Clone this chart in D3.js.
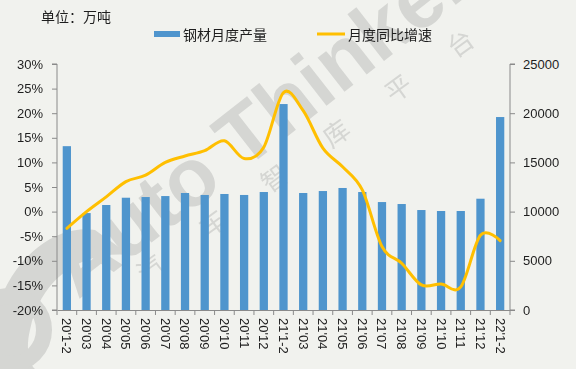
<!DOCTYPE html>
<html>
<head>
<meta charset="utf-8">
<script src="https://cdn.jsdelivr.net/npm/d3@7"></script>
<style>
body { margin: 0; background: #f1f2ee; }
#chart { width: 576px; height: 369px; }
text { font-family: "Liberation Sans", Arial, "Noto Sans CJK SC", sans-serif; }
</style>
</head>
<body>
<div id="chart"></div>
<script>
// categories (x axis)
let months = ["20'1-2","20'03","20'04","20'05","20'06","20'07","20'08","20'09","20'10","20'11","20'12",
    "21'1-2","21'03","21'04","21'05","21'06","21'07","21'08","21'09","21'10","21'11","21'12","22'1-2"];
// 钢材月度产量 (right axis)
let output = [16650, 9850, 10670, 11410, 11480, 11580, 11890, 11690, 11790, 11690, 11990,
    20930, 11890, 12090, 12400, 11990, 10970, 10770, 10160, 10060, 10060, 11310, 19610];
// 月度同比增速 (left axis)
let growth = [-3.4, 0.0, 3.0, 6.1, 7.4, 10.0, 11.3, 12.4, 14.4, 10.8, 13.1,
    24.2, 20.5, 12.9, 9.1, 4.4, -7.1, -10.5, -14.9, -14.7, -15.3, -4.8, -5.9];
let leftTicks = [-20, -15, -10, -5, 0, 5, 10, 15, 20, 25, 30];
let rightTicks = [0, 5000, 10000, 15000, 20000, 25000];

let width = 576, height = 369;
let pLeft = 57, pRight = 510, pTop = 64, pBottom = 310;

let svg = d3.select("#chart").append("svg")
    .attr("width", width)
    .attr("height", height);

svg.append("rect").attr("width", width).attr("height", height).attr("fill", "#f1f2ee");

// watermark
let wm = svg.append("g").attr("fill", "#d2d3d0").attr("opacity", 0.9);
wm.append("path")
    .attr("d", "M0,300 C20,250 60,225 95,230 L130,255 C80,250 40,280 30,330 C25,350 30,365 35,369 L0,369 Z");
wm.append("circle").attr("cx", 10).attr("cy", 330).attr("r", 34)
    .attr("fill", "none").attr("stroke", "#d2d3d0").attr("stroke-width", 16);
wm.append("text")
    .attr("transform", "translate(78,300) rotate(-38)")
    .attr("font-size", 82)
    .attr("font-weight", "bold")
    .attr("font-family", "Liberation Sans, Arial")
    .text("Auto Thinker");
let cn = ["汽", "车", "智", "库", "平", "台"];
wm.selectAll(".cn").data(cn).enter()
    .append("text")
    .attr("class", "cn")
    .attr("font-size", 26)
    .attr("font-family", "Noto Sans CJK SC")
    .attr("text-anchor", "middle")
    .attr("transform", (d, i) => `translate(${156 + i * 62},${276 - i * 45}) rotate(-36)`)
    .text(d => d);

let x = d3.scaleBand().domain(months).range([pLeft, pRight]).paddingInner(0.58).paddingOuter(0.29);
let yL = d3.scaleLinear().domain([-20, 30]).range([pBottom, pTop]);
let yR = d3.scaleLinear().domain([0, 25000]).range([pBottom, pTop]);

// bars
svg.selectAll(".bar").data(output).enter()
    .append("rect")
    .attr("class", "bar")
    .attr("x", (d, i) => x(months[i]))
    .attr("width", x.bandwidth())
    .attr("y", d => yR(d))
    .attr("height", d => yR(0) - yR(d))
    .attr("fill", "#4f95cd");

// axes
let axisColor = "#8a8a8a";
let gl = svg.append("g").attr("transform", `translate(${pLeft},0)`)
    .call(d3.axisLeft(yL).tickValues(leftTicks).tickSize(5).tickPadding(9).tickFormat(d => d + "%"));
let gr = svg.append("g").attr("transform", `translate(${pRight},0)`)
    .call(d3.axisRight(yR).tickValues(rightTicks).tickSize(5).tickPadding(8).tickFormat(d3.format("d")));
let xb = d3.scaleBand().domain(months).range([pLeft, pRight]);
let gx = svg.append("g").attr("transform", `translate(0,${pBottom})`)
    .call(d3.axisBottom(xb).tickSize(0).tickPadding(0));
gx.selectAll(".tick text")
    .attr("transform", "rotate(90)")
    .attr("text-anchor", "start")
    .attr("x", 8)
    .attr("y", 0)
    .attr("dy", "0.35em");
gx.selectAll(".bnd").data(d3.range(months.length + 1)).enter()
    .append("line")
    .attr("x1", i => pLeft + i * xb.step()).attr("x2", i => pLeft + i * xb.step())
    .attr("y1", 0).attr("y2", 5)
    .attr("stroke", axisColor);

[gl, gr, gx].forEach(g => {
    g.selectAll("path.domain").attr("stroke", axisColor);
    g.selectAll(".tick line").attr("stroke", axisColor);
    g.selectAll(".tick text").attr("fill", "#1e1e1e").attr("font-size", 13)
        .attr("font-family", "Liberation Sans, Arial");
});
gl.select("path.domain").attr("d", `M-5,${pTop}H0V${pBottom}H-5`);
gr.select("path.domain").attr("d", `M5,${pTop}H0V${pBottom}H5`);

// line
let line = d3.line()
    .x((d, i) => x(months[i]) + x.bandwidth() / 2)
    .y(d => yL(d))
    .curve(d3.curveCatmullRom.alpha(0));
svg.append("path")
    .datum(growth)
    .attr("d", line)
    .attr("fill", "none")
    .attr("stroke", "#ffbf00")
    .attr("stroke-width", 3)
    .attr("stroke-linecap", "round");

// title + legend
svg.append("text").attr("x", 41).attr("y", 22).attr("font-size", 14).attr("fill", "#1e1e1e")
    .attr("font-family", "Noto Sans CJK SC").text("单位：万吨");
svg.append("rect").attr("x", 154).attr("y", 31).attr("width", 26).attr("height", 6).attr("fill", "#4f95cd");
svg.append("text").attr("x", 183).attr("y", 40).attr("font-size", 14).attr("fill", "#1e1e1e")
    .attr("font-family", "Noto Sans CJK SC").text("钢材月度产量");
svg.append("line").attr("x1", 317).attr("x2", 345).attr("y1", 34).attr("y2", 34)
    .attr("stroke", "#ffbf00").attr("stroke-width", 3);
svg.append("text").attr("x", 348).attr("y", 40).attr("font-size", 14).attr("fill", "#1e1e1e")
    .attr("font-family", "Noto Sans CJK SC").text("月度同比增速");
</script>
</body>
</html>
